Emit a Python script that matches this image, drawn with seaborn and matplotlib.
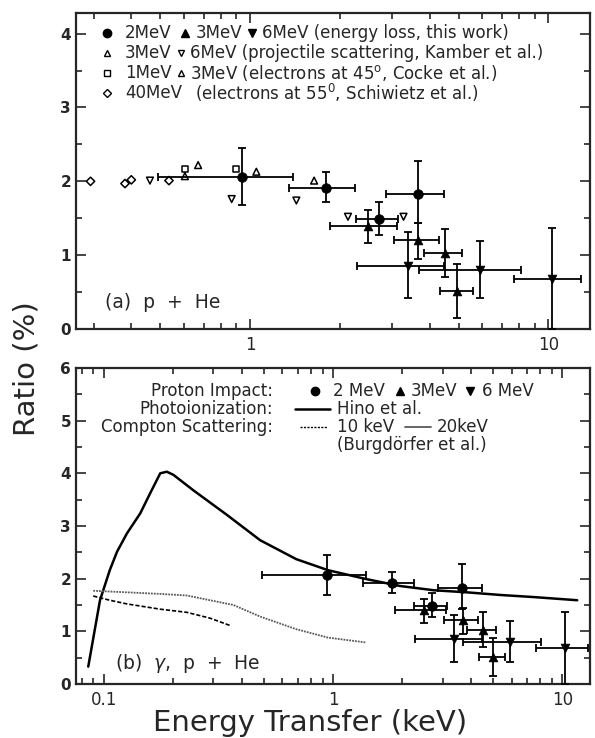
import numpy as np
import pandas as pd
import seaborn as sns
import matplotlib.pyplot as plt
from matplotlib.ticker import LogLocator, NullFormatter, MultipleLocator, FixedLocator, FixedFormatter

# energy loss data, this work (proton impact)
e2_x = [0.94, 1.80, 2.70, 3.66]
e2_y = [2.06, 1.91, 1.49, 1.83]
e2_xerr = [0.45, 0.45, 0.44, 0.80]
e2_ylo = [0.38, 0.19, 0.22, 0.40]
e2_yhi = [0.39, 0.22, 0.23, 0.44]

e3_x = [2.49, 3.67, 4.49, 4.96]
e3_y = [1.40, 1.21, 1.03, 0.51]
e3_xerr = [0.63, 0.63, 0.65, 0.63]
e3_ylo = [0.24, 0.26, 0.33, 0.36]
e3_yhi = [0.21, 0.23, 0.33, 0.37]

e6_x = [3.38, 5.88, 10.3]
e6_y = [0.86, 0.80, 0.68]
e6_xerr = [1.10, 2.20, 2.60]
e6_ylo = [0.44, 0.38, 0.68]
e6_yhi = [0.45, 0.39, 0.69]

# projectile scattering, Kamber et al.
k3_x = [1.05, 1.64]
k3_y = [2.13, 2.01]
k6_x = [0.462, 0.868, 1.43, 2.13, 3.27]
k6_y = [2.01, 1.76, 1.74, 1.52, 1.52]

# electrons at 45 deg, Cocke et al.
c1_x = [0.605, 0.90]
c1_y = [2.17, 2.17]
c3_x = [0.605, 0.67]
c3_y = [2.07, 2.22]

# electrons at 55 deg, Schiwietz et al.
s40_x = [0.292, 0.381, 0.40, 0.535]
s40_y = [2.00, 1.97, 2.02, 2.01]

# photoionization, Hino et al.
hino_x = [0.0854, 0.0961, 0.106, 0.114, 0.126, 0.144, 0.159, 0.176, 0.188, 0.201,
          0.245, 0.344, 0.480, 0.690, 0.95, 1.40, 1.96, 2.74, 3.83, 5.36, 7.5, 11.6]
hino_y = [0.33, 1.59, 2.16, 2.51, 2.86, 3.24, 3.62, 4.00, 4.03, 3.97,
          3.68, 3.21, 2.73, 2.37, 2.16, 1.99, 1.86, 1.78, 1.74, 1.69, 1.65, 1.59]

# Compton scattering, Burgdoerfer et al.
c10_x = [0.0898, 0.106, 0.126, 0.176, 0.230, 0.290, 0.355]
c10_y = [1.67, 1.59, 1.52, 1.42, 1.36, 1.25, 1.11]
c20_x = [0.0898, 0.126, 0.176, 0.230, 0.290, 0.367, 0.480, 0.69, 0.95, 1.38]
c20_y = [1.77, 1.74, 1.71, 1.68, 1.59, 1.50, 1.28, 1.04, 0.88, 0.79]

sns.set_style("ticks")
plt.rcParams['font.family'] = ['DejaVu Sans']
plt.rcParams['mathtext.fontset'] = 'dejavusans'

fig = plt.figure(figsize=(5.95, 7.38), dpi=100)
ax1 = fig.add_axes([0.1277, 0.5542, 0.864, 0.4282])
ax2 = fig.add_axes([0.1277, 0.0732, 0.864, 0.4282])

FS = 12


def style_axis(ax, ymax, xlim, xticks, xlabels):
    ax.set_xscale("log")
    ax.set_xlim(*xlim)
    ax.set_ylim(0, ymax)
    ax.xaxis.set_major_locator(FixedLocator(xticks))
    ax.xaxis.set_major_formatter(FixedFormatter(xlabels))
    ax.xaxis.set_minor_locator(LogLocator(base=10, subs=np.arange(2, 10)))
    ax.xaxis.set_minor_formatter(NullFormatter())
    ax.yaxis.set_major_locator(MultipleLocator(1))
    ax.yaxis.set_minor_locator(MultipleLocator(0.5))
    ax.tick_params(which='both', direction='in', top=True, right=True, width=1.2)
    ax.tick_params(which='major', length=7)
    ax.tick_params(which='minor', length=4)
    ax.tick_params(axis='x', labelsize=FS, pad=5)
    ax.tick_params(axis='y', labelsize=FS - 1)
    for lab in ax.get_yticklabels():
        lab.set_fontweight('bold')
    for sp in ax.spines.values():
        sp.set_linewidth(1.6)
        sp.set_visible(True)
    ax.set_xlabel("")
    ax.set_ylabel("")


def proton_data(ax):
    for xs, ys, xe, ylo, yhi, mk in [(e2_x, e2_y, e2_xerr, e2_ylo, e2_yhi, 'o'),
                                     (e3_x, e3_y, e3_xerr, e3_ylo, e3_yhi, '^'),
                                     (e6_x, e6_y, e6_xerr, e6_ylo, e6_yhi, 'v')]:
        ax.errorbar(xs, ys, xerr=xe, yerr=[ylo, yhi], fmt='none', ecolor='k',
                    elinewidth=1.3, capsize=3, capthick=1.3, zorder=3)
        sns.scatterplot(x=xs, y=ys, marker=mk, color='k', s=48 if mk == 'o' else 40,
                        edgecolor='k', linewidth=0.5, ax=ax, zorder=4, legend=False)


# ---- panel (a)
open_sets = [(k3_x, k3_y, '^'), (k6_x, k6_y, 'v'), (c1_x, c1_y, 's'),
             (c3_x, c3_y, '^'), (s40_x, s40_y, 'D')]
proton_data(ax1)
for xs, ys, mk in open_sets:
    sns.scatterplot(x=xs, y=ys, marker=mk, facecolor='none', edgecolor='k',
                    s=18 if mk in ('s', 'D') else 24, linewidth=1.1, ax=ax1,
                    zorder=5, legend=False)
style_axis(ax1, 4.28, (0.261, 13.8), [1, 10], ['1', '10'])

ax1.text(0.056, 0.085, "(a)  p  +  He", transform=ax1.transAxes, fontsize=FS + 1.5,
         va='center', ha='left')

# legend of panel (a): (marker x, marker, filled, text x, text)
rows_a = [0.937, 0.873, 0.810, 0.747]
leg_a = [
    [(0.060, 'o', True, 0.095, "2MeV"), (0.212, '^', True, 0.232, "3MeV"),
     (0.342, 'v', True, 0.362, "6MeV (energy loss, this work)")],
    [(0.060, '^', False, 0.095, "3MeV"),
     (0.204, 'v', False, 0.222, "6MeV (projectile scattering, Kamber et al.)")],
    [(0.060, 's', False, 0.095, "1MeV"),
     (0.204, '^', False, 0.222, "3MeV (electrons at 45$^{\\mathrm{o}}$, Cocke et al.)")],
    [(0.060, 'D', False, 0.095, "40MeV")],
]
for ry, items in zip(rows_a, leg_a):
    for mx, mk, filled, tx, txt in items:
        ax1.plot([mx], [ry], marker=mk, transform=ax1.transAxes, ls='none',
                 color='k', mfc='k' if filled else 'none', mec='k',
                 ms=6 if filled else 4.5, mew=1.0, clip_on=False)
        ax1.text(tx, ry, txt, transform=ax1.transAxes, fontsize=FS,
                 va='center', ha='left')
ax1.text(0.232, rows_a[3], "(electrons at 55$^{0}$, Schiwietz et al.)",
         transform=ax1.transAxes, fontsize=FS, va='center', ha='left')

# ---- panel (b)
sns.lineplot(x=hino_x, y=hino_y, color='k', lw=1.8, sort=False, ax=ax2, zorder=2)
sns.lineplot(x=c10_x, y=c10_y, color='k', lw=1.2, ls=(0, (2.5, 1.2)), sort=False, ax=ax2, zorder=2)
sns.lineplot(x=c20_x, y=c20_y, color='0.35', lw=1.3, ls=(0, (1, 0.6)), sort=False, ax=ax2, zorder=2)
proton_data(ax2)
style_axis(ax2, 6, (0.0755, 13.2), [0.1, 1, 10], ['0.1', '1', '10'])

ax2.text(0.076, 0.066, "(b)  $\\gamma$,  p  +  He", transform=ax2.transAxes,
         fontsize=FS + 1.5, va='center', ha='left')

rows_b = [0.927, 0.870, 0.813, 0.756]
lbl_x = 0.383
for ry, txt in zip(rows_b[:3], ["Proton Impact:", "Photoionization:", "Compton Scattering:"]):
    ax2.text(lbl_x, ry, txt, transform=ax2.transAxes, fontsize=FS, va='center', ha='right')
for mx, mk, tx, txt in [(0.465, 'o', 0.500, "2 MeV"), (0.630, '^', 0.652, "3MeV"),
                        (0.766, 'v', 0.790, "6 MeV")]:
    ax2.plot([mx], [rows_b[0]], marker=mk, transform=ax2.transAxes, ls='none',
             color='k', ms=6, clip_on=False)
    ax2.text(tx, rows_b[0], txt, transform=ax2.transAxes, fontsize=FS, va='center', ha='left')
ax2.plot([0.426, 0.494], [rows_b[1]] * 2, transform=ax2.transAxes, color='k', lw=1.8)
ax2.text(0.508, rows_b[1], "Hino et al.", transform=ax2.transAxes, fontsize=FS, va='center')
ax2.plot([0.436, 0.488], [rows_b[2]] * 2, transform=ax2.transAxes, color='k', lw=1.0,
         ls=(0, (1.5, 1)))
ax2.text(0.508, rows_b[2], "10 keV", transform=ax2.transAxes, fontsize=FS, va='center')
ax2.plot([0.640, 0.690], [rows_b[2]] * 2, transform=ax2.transAxes, color='0.35', lw=1.3)
ax2.text(0.702, rows_b[2], "20keV", transform=ax2.transAxes, fontsize=FS, va='center')
ax2.text(0.508, rows_b[3], "(Burgdörfer et al.)", transform=ax2.transAxes, fontsize=FS,
         va='center')

fig.text(0.045, 0.501, "Ratio (%)", rotation=90, fontsize=21, ha='center', va='center')
fig.text(0.521, 0.021, "Energy Transfer (keV)", fontsize=21, ha='center', va='center')

fig.savefig("out.png", dpi=100)
